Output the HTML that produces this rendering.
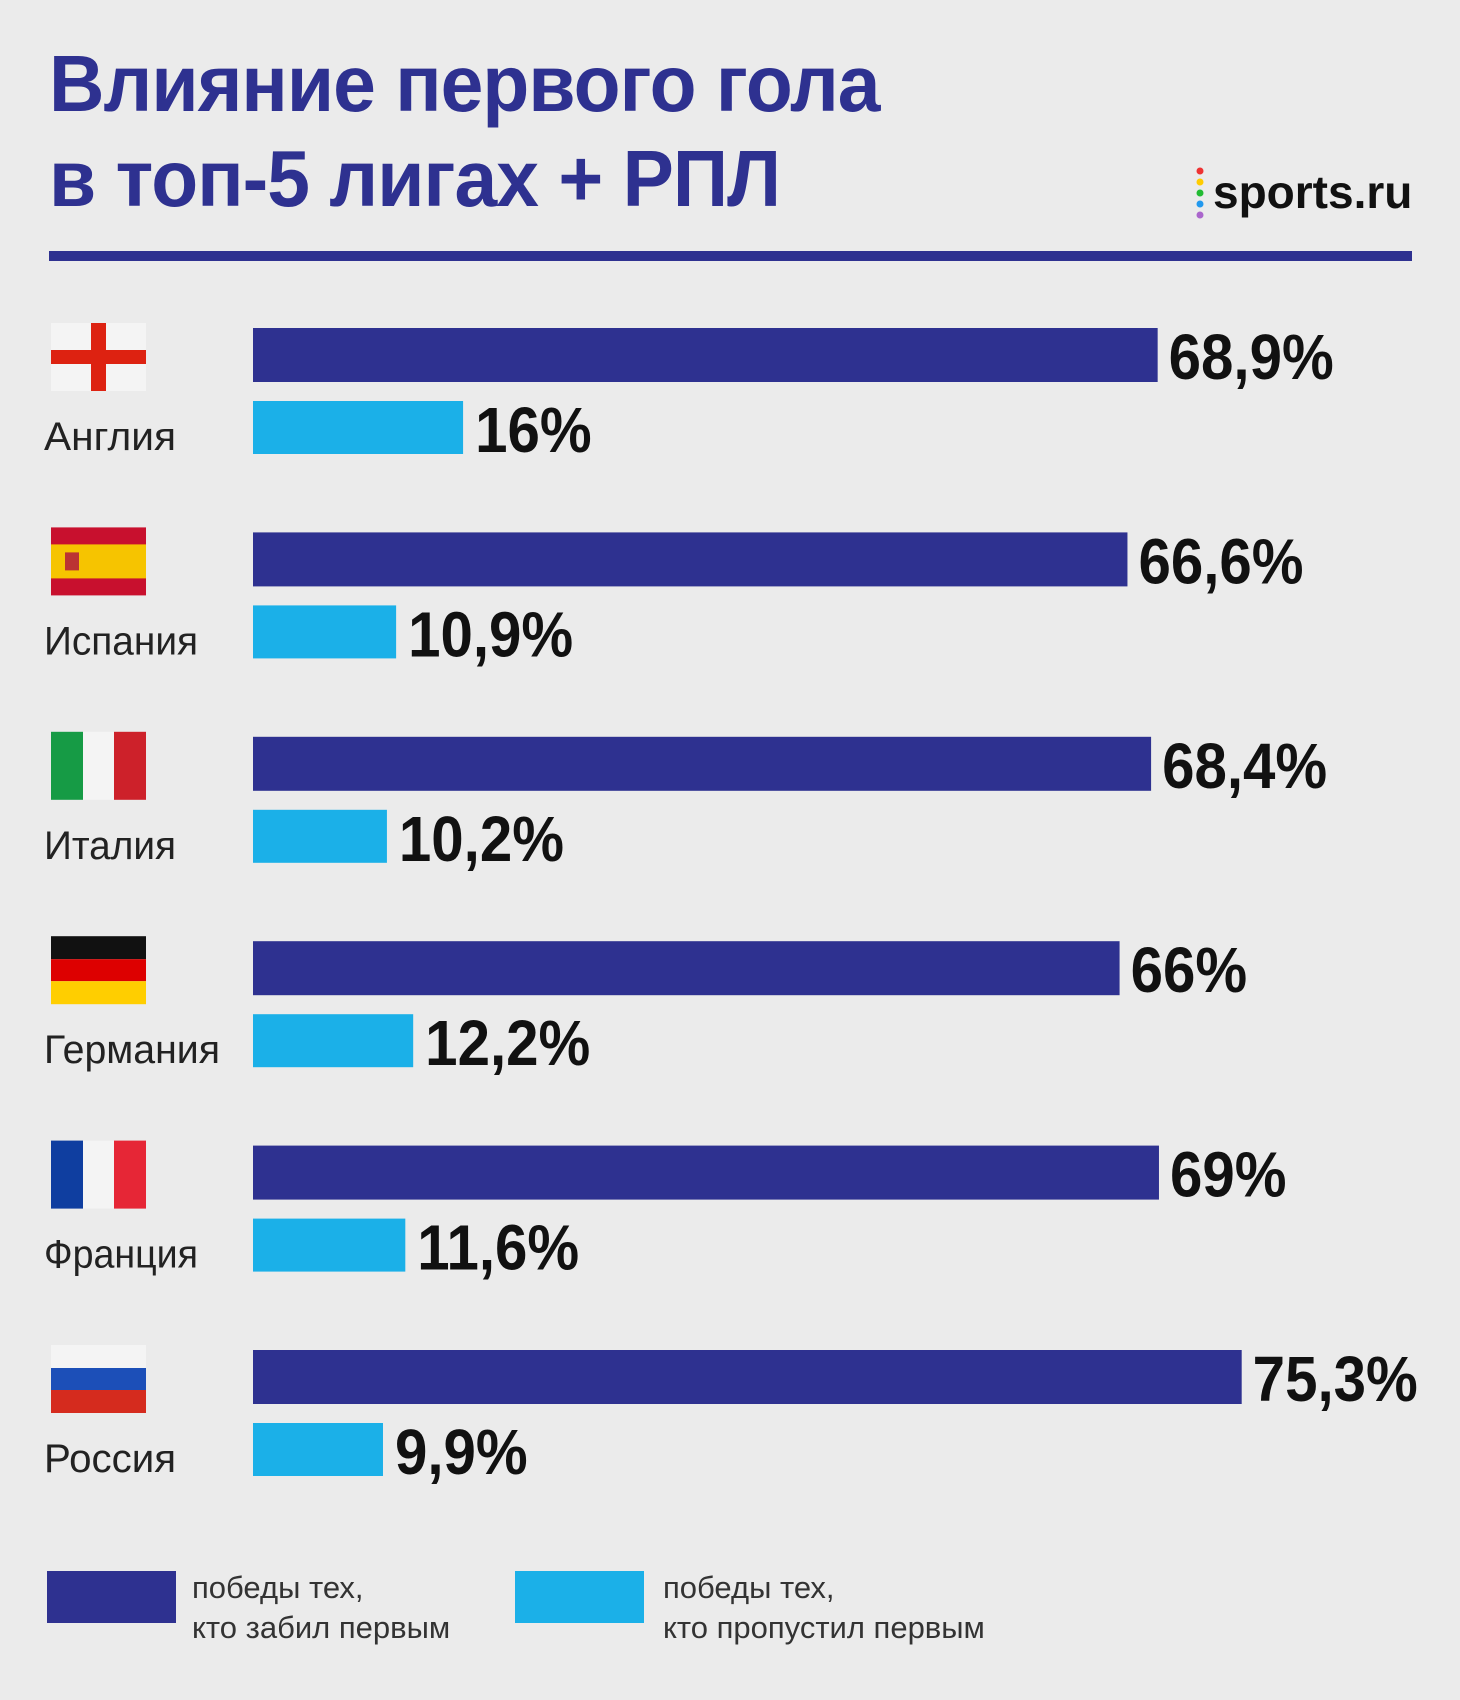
<!DOCTYPE html>
<html><head><meta charset="utf-8"><style>
body{margin:0;width:1460px;height:1700px;background:#ebebeb;position:relative;overflow:hidden;font-family:"Liberation Sans",sans-serif}
.t{position:absolute;left:49px;color:#2e3190;font-weight:bold;font-size:80px;transform:scaleX(0.96);transform-origin:left;white-space:nowrap;letter-spacing:-1px}
</style></head><body>
<div class="t" style="top:38px">Влияние первого гола</div>
<div class="t" style="top:133px">в топ-5 лигах + РПЛ</div>
<div style="position:absolute;left:1196px;top:165px;width:230px;height:60px">
<svg width="10" height="55" style="position:absolute;left:0;top:2px"><circle cx="4" cy="4" r="3.5" fill="#e33"/><circle cx="4" cy="15" r="3.5" fill="#fc0"/><circle cx="4" cy="26" r="3.5" fill="#2b3"/><circle cx="4" cy="37" r="3.5" fill="#29e"/><circle cx="4" cy="48" r="3.5" fill="#a6c"/></svg>
<span style="position:absolute;left:17px;top:0;font-size:46px;font-weight:bold;color:#111;display:inline-block">sports.ru</span></div>
<div style="position:absolute;left:49px;top:251px;width:1363px;height:10px;background:#2e3190"></div>
<svg id="chart" width="1460" height="1700" style="position:absolute;left:0;top:0"></svg>
<script>
const countries=["Англия","Испания","Италия","Германия","Франция","Россия"];
const scoredFirst=[68.9,66.6,68.4,66,69,75.3];
const concededFirst=[16,10.9,10.2,12.2,11.6,9.9];
const scoredLabels=["68,9%","66,6%","68,4%","66%","69%","75,3%"];
const concededLabels=["16%","10,9%","10,2%","12,2%","11,6%","9,9%"];
const NS="http://www.w3.org/2000/svg";
const svg=document.getElementById('chart');
const x0=253,k=13.13,S=0.91;
const xs=v=>x0+v*k;
const groupY=i=>328+i*204.4;
function mk(t,a){const e=document.createElementNS(NS,t);for(const n in a)e.setAttribute(n,a[n]);svg.appendChild(e);return e;}
function flag(i,x,y){const w=95,h=68;const g=document.createElementNS(NS,'g');svg.appendChild(g);
const r=(xx,yy,ww,hh,c)=>{const e=document.createElementNS(NS,'rect');e.setAttribute('x',x+xx);e.setAttribute('y',y+yy);e.setAttribute('width',ww);e.setAttribute('height',hh);e.setAttribute('fill',c);g.appendChild(e);};


if(i==0){r(0,0,w,h,'#f4f4f4');r(40,0,15,h,'#d21');r(0,27,w,14,'#d21');}
else if(i==1){r(0,0,w,h,'#c8102e');r(0,17,w,34,'#f6c400');r(14,25,14,18,'#b33');}
else if(i==2){r(0,0,32,h,'#169b45');r(32,0,31,h,'#f4f4f4');r(63,0,32,h,'#cd212a');}
else if(i==3){r(0,0,w,23,'#111');r(0,23,w,22,'#dd0000');r(0,45,w,23,'#ffce00');}
else if(i==4){r(0,0,32,h,'#0f3ea0');r(32,0,31,h,'#f4f4f4');r(63,0,32,h,'#e62636');}
else {r(0,0,w,23,'#f4f4f4');r(0,23,w,22,'#1c4fb8');r(0,45,w,23,'#d52b1e');}}
countries.forEach((c,i)=>{const y=groupY(i);
flag(i,51,y-5);
const t=mk('text',{x:44,y:y+122,'font-size':40,fill:'#222','font-family':'Liberation Sans, sans-serif',textLength:c.length*22,lengthAdjust:'spacingAndGlyphs'});t.textContent=c;


const b1=mk('rect',{x:x0,y:y,width:xs(scoredFirst[i])-x0,height:54,fill:'#2e3190'});


const b2=mk('rect',{x:x0,y:y+73,width:xs(concededFirst[i])-x0,height:53,fill:'#1bb0e8'});


const ax=xs(scoredFirst[i])+11;
const l1=mk('text',{x:ax,y:y+51,'font-size':64,'font-weight':'bold',fill:'#111','font-family':'Liberation Sans, sans-serif',transform:`translate(${ax*(1-S)},0) scale(${S},1)`});l1.textContent=scoredLabels[i];


const lx=xs(concededFirst[i])+12;
const l2=mk('text',{x:lx,y:y+124,'font-size':64,'font-weight':'bold',fill:'#111','font-family':'Liberation Sans, sans-serif',transform:`translate(${lx*(1-S)},0) scale(${S},1)`});l2.textContent=concededLabels[i];


});
</script>
<div style="position:absolute;left:47px;top:1571px;width:129px;height:52px;background:#2e3190"></div>
<div style="position:absolute;left:192px;top:1568px;font-size:31px;line-height:40px;color:#333">победы тех,<br>кто забил первым</div>
<div style="position:absolute;left:515px;top:1571px;width:129px;height:52px;background:#1bb0e8"></div>
<div style="position:absolute;left:663px;top:1568px;font-size:31px;line-height:40px;color:#333">победы тех,<br>кто пропустил первым</div>
</body></html>
